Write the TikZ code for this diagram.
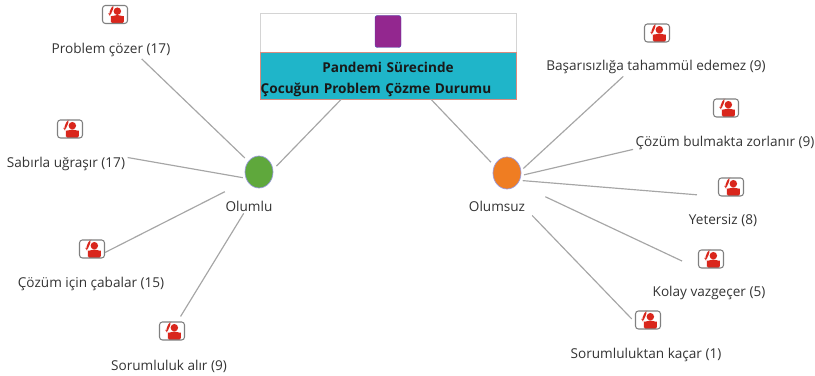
\documentclass[tikz,border=0pt]{standalone}
\usepackage{fontspec}
\setmainfont{Open Sans}
\usetikzlibrary{positioning}
\usetikzlibrary{shapes.geometric}
\definecolor{linegray}{HTML}{A6A6A6}
\definecolor{boxgray}{HTML}{D4D4D4}
\definecolor{titleteal}{HTML}{1FB5C9}
\definecolor{titleedge}{HTML}{D98C80}
\definecolor{topicpurple}{HTML}{93278F}
\definecolor{posgreen}{HTML}{5FA83C}
\definecolor{negorange}{HTML}{EF7D22}
\definecolor{iconred}{HTML}{D9261C}
\definecolor{textgray}{HTML}{333333}
\tikzset{main node/.style={ellipse,draw=black!35!blue!40,line width=0.6pt,minimum width=28*0.03cm,minimum height=32*0.03cm,inner sep=0pt},}
\tikzset{leaf/.style={font=\fontsize{11.6}{14}\selectfont,text=textgray,inner sep=2pt},}
\tikzset{link/.style={draw=linegray,line width=1pt},}
\tikzset{icon/.style={rectangle,rounded corners=2.5pt,draw=gray,line width=0.9pt,fill=white,minimum width=25*0.03cm,minimum height=18*0.03cm,inner sep=0pt,
    path picture={
      \begin{scope}[shift={(path picture bounding box.center)},x=1pt,y=1pt]
        \fill[iconred] (2,2.8) circle (3.2);
        \fill[iconred] (-3.5,-8) -- (-3.5,-4) .. controls (-3.5,-1.5) and (-1,-1) .. (0.5,-0.5) -- (3.5,-0.5) .. controls (5,-1) and (7.5,-1.5) .. (7.5,-4) -- (7.5,-8) -- cycle;
        \fill[iconred] (-2,8) -- (-5.5,0.5) -- (-4.5,-1) -- (-3,1) -- (-0.5,8) -- cycle;
        \fill[white] (-12,-8) rectangle (-7,-4);
      \end{scope}
    }},}

\begin{document}
\begin{tikzpicture}[x=0.03cm,y=0.03cm,on grid]
    \useasboundingbox (0,0) rectangle (815,376);
    \node[draw=boxgray,line width=0.8pt,minimum width=256*0.03cm,minimum height=39*0.03cm,inner sep=0pt] (top) at (388,343.5) {};
    \node[rectangle,rounded corners=2pt,draw=blue!40!gray,fill=topicpurple,minimum width=26*0.03cm,minimum height=32*0.03cm,inner sep=0pt] (topic) [above = 1 of top] {};
    \node[draw=titleedge,line width=0.6pt,fill=titleteal,minimum width=256*0.03cm,minimum height=47*0.03cm,inner sep=0pt,text width=256*0.03cm,align=center,font=\fontsize{11.6}{18.5}\selectfont\bfseries,text=black!90] (title) [below = 43 of top] {\rule{0pt}{15.5pt}Pandemi Sürecinde\\Çocuğun Problem Çözme Durumu\hspace*{0.72cm}};

    \node[main node,fill=posgreen] (pos) [below left = 96.5 and 129 of title] {};
    \node[main node,fill=negorange] (neg) [below right = 97.5 and 119 of title] {};
    \node[leaf] (posl) [below left = 34 and 10 of pos] {Olumlu};
    \node[leaf] (negl) [below left = 33 and 10 of neg] {Olumsuz};

    \node[icon] (p1i) [above left = 157.5 and 144 of pos] {};
    \node[leaf] (p1) [below left = 35 and 4 of p1i] {Problem çözer (17)};
    \node[icon] (p2i) [above left = 43 and 189 of pos] {};
    \node[leaf] (p2) [below left = 35 and 4 of p2i] {Sabırla uğraşır (17)};
    \node[icon] (p3i) [below left = 77 and 167 of pos] {};
    \node[leaf] (p3) [below left = 35 and 1 of p3i] {Çözüm için çabalar (15)};
    \node[icon] (p4i) [below left = 159 and 87 of pos] {};
    \node[leaf] (p4) [below left = 35 and 3 of p4i] {Sorumluluk alır (9)};

    \node[icon] (n1i) [above right = 140 and 150 of neg] {};
    \node[leaf] (n1) [below left = 34 and 1 of n1i] {Başarısızlığa tahammül edemez (9)};
    \node[icon] (n2i) [above right = 65 and 219 of neg] {};
    \node[leaf] (n2) [below left = 35 and 1 of n2i] {Çözüm bulmakta zorlanır (9)};
    \node[icon] (n3i) [below right = 14 and 224 of neg] {};
    \node[leaf] (n3) [below left = 34 and 8 of n3i] {Yetersiz (8)};
    \node[icon] (n4i) [below right = 86 and 204 of neg] {};
    \node[leaf] (n4) [below left = 34 and 2 of n4i] {Kolay vazgeçer (5)};
    \node[icon] (n5i) [below right = 147 and 141 of neg] {};
    \node[leaf] (n5) [below left = 35 and 2 of n5i] {Sorumluluktan kaçar (1)};

    \path[link]
    (title.207) edge[shorten >=4pt] (pos.10)
    (title.-29) edge[shorten >=4pt] (neg.150)
    (pos.135) edge[shorten <=4pt] (p1.-17)
    (pos.205) edge[shorten <=2.5pt] (p2.6)
    (pos.215) edge[shorten <=21pt] (p3i.-15)
    (pos.south) edge[shorten <=25pt,shorten >=5pt] (p4i.60)
    (neg.10) edge[shorten <=2.5pt] (n1.196)
    (neg.-10) edge[shorten <=2.5pt] (n2.184)
    (neg.-30) edge[shorten <=2.5pt,shorten >=18pt] (n3i.south west)
    (neg.-45) edge[shorten <=26pt,shorten >=15pt] (n4i.south west)
    (neg.south) edge[shorten <=31pt,shorten >=4pt] (n5i.190);
  \end{tikzpicture}
\end{document}
